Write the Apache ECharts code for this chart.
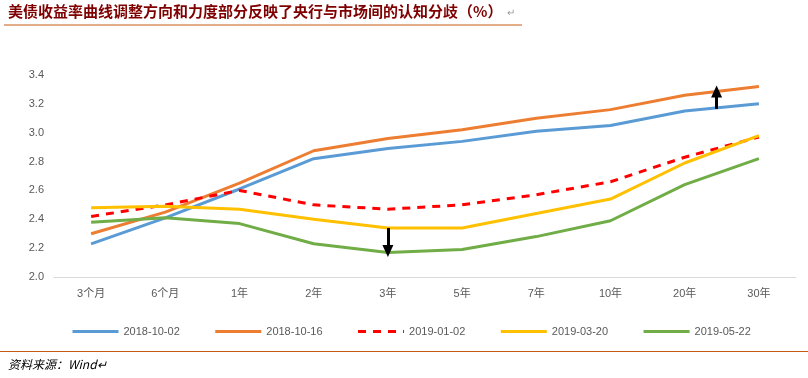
<!DOCTYPE html>
<html>
<head>
<meta charset="utf-8">
<script src="https://cdn.jsdelivr.net/npm/echarts@6/dist/echarts.min.js"></script>
<style>
  html, body { margin: 0; padding: 0; background: #fff; }
  #chart { width: 808px; height: 378px; }
</style>
</head>
<body>
<div id="chart"></div>
<script>
// 期限
const tenors = ['3个月', '6个月', '1年', '2年', '3年', '5年', '7年', '10年', '20年', '30年'];

// 各日期收益率曲线 (%)
const d20181002 = [2.23, 2.41, 2.61, 2.82, 2.89, 2.94, 3.01, 3.05, 3.15, 3.20];
const d20181016 = [2.30, 2.45, 2.65, 2.875, 2.96, 3.02, 3.10, 3.16, 3.26, 3.32];
const d20190102 = [2.42, 2.50, 2.60, 2.50, 2.47, 2.50, 2.57, 2.66, 2.83, 2.97];
const d20190320 = [2.48, 2.49, 2.47, 2.40, 2.34, 2.34, 2.44, 2.54, 2.79, 2.98];
const d20190522 = [2.38, 2.41, 2.37, 2.23, 2.17, 2.19, 2.28, 2.39, 2.64, 2.82];

const seriesNames = ['2018-10-02', '2018-10-16', '2019-01-02', '2019-03-20', '2019-05-22'];
const colors = ['#5B9BD5', '#ED7D31', '#FF0000', '#FFC000', '#70AD47'];

// 箭头标注（x 为期限序号）
const arrowLines = [
  [{ coord: [4, 2.34] }, { coord: [4, 2.18] }],
  [{ coord: [8.43, 3.165] }, { coord: [8.43, 3.285] }]
];

const chart = echarts.init(document.getElementById('chart'));

function makeSeries(name, data, color, dashed) {
  return {
    name: name,
    type: 'line',
    data: data,
    symbol: 'none',
    lineStyle: { color: color, width: 3, type: dashed ? [8, 7] : 'solid' },
    itemStyle: { color: color }
  };
}

const series = [
  makeSeries(seriesNames[0], d20181002, colors[0]),
  makeSeries(seriesNames[1], d20181016, colors[1]),
  makeSeries(seriesNames[2], d20190102, colors[2], true),
  makeSeries(seriesNames[3], d20190320, colors[3]),
  makeSeries(seriesNames[4], d20190522, colors[4]),
  {
    // 箭头用的辅助系列
    type: 'line',
    xAxisIndex: 1,
    data: [],
    markLine: {
      silent: true,
      symbol: ['none', 'triangle'],
      symbolSize: [11, 12],
      label: { show: false },
      lineStyle: { color: '#000', width: 3, type: 'solid' },
      data: arrowLines
    }
  }
];

const option = {
  animation: false,
  textStyle: { fontFamily: 'Arial, "Liberation Sans", "Noto Sans CJK SC", sans-serif' },
  grid: { left: 54, right: 12, top: 75, bottom: 101 },
  graphic: [
    {
      type: 'text', left: 8, top: 4,
      style: {
        text: '美债收益率曲线调整方向和力度部分反映了央行与市场间的认知分歧（%）',
        fill: '#7F0000', fontSize: 15, fontWeight: 'bold',
        fontFamily: '"Noto Sans CJK SC", sans-serif'
      }
    },
    {
      type: 'text', left: 507, top: 8,
      style: { text: '↵', fill: '#999', fontSize: 10 }
    },
    {
      type: 'line', shape: { x1: 4, y1: 25, x2: 522, y2: 25 },
      style: { stroke: '#C55A11', lineWidth: 1 }
    },
    {
      type: 'line', shape: { x1: 0, y1: 351.5, x2: 808, y2: 351.5 },
      style: { stroke: '#C55A11', lineWidth: 1 }
    },
    {
      type: 'text', left: 8, top: 358,
      style: {
        text: '资料来源：Wind↵', fill: '#000', fontSize: 12, fontStyle: 'italic',
        fontFamily: '"Noto Sans CJK SC", sans-serif'
      }
    }
  ],
  legend: {
    left: 66, top: 321,
    itemWidth: 46, itemHeight: 10, itemGap: 34,
    itemStyle: { opacity: 0 },
    lineStyle: { width: 3 },
    textStyle: { color: '#595959', fontSize: 11 },
    data: seriesNames
  },
  xAxis: [
    {
      type: 'category',
      data: tenors,
      boundaryGap: true,
      axisLine: { lineStyle: { color: '#D9D9D9', width: 1 } },
      axisTick: { show: false },
      axisLabel: { color: '#595959', fontSize: 11, margin: 11 }
    },
    {
      type: 'value',
      min: -0.5, max: 9.5,
      show: false
    }
  ],
  yAxis: {
    type: 'value',
    min: 2.0, max: 3.4, interval: 0.2,
    axisLine: { show: false },
    axisTick: { show: false },
    splitLine: { show: false },
    axisLabel: {
      color: '#595959', fontSize: 11, margin: 10,
      formatter: v => v.toFixed(1)
    }
  },
  series: series
};

chart.setOption(option);
</script>
</body>
</html>
